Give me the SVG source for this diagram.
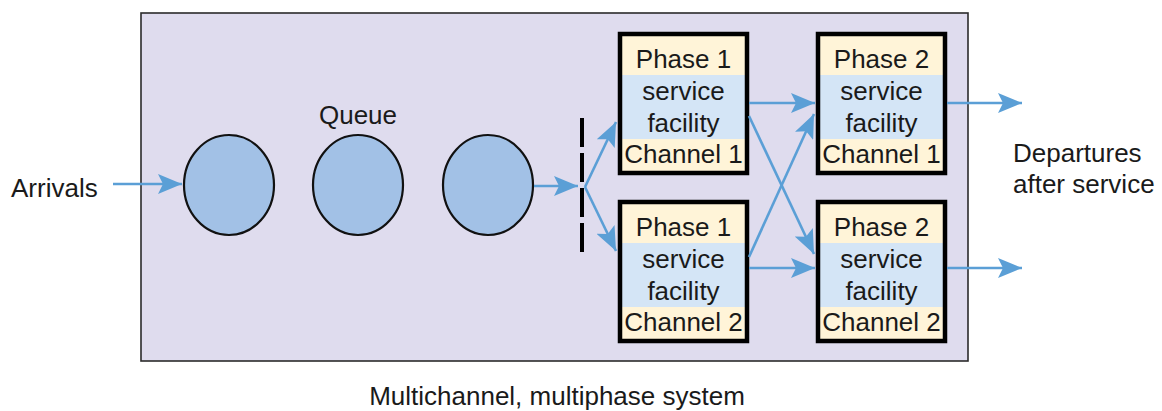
<svg xmlns="http://www.w3.org/2000/svg" width="1162" height="411" viewBox="0 0 1162 411">
<style>
text{font-family:"Liberation Sans",Arial,sans-serif;font-size:26px;fill:#1a1a1a}
.c{text-anchor:middle}
.q{fill:#a2c1e6;stroke:#111;stroke-width:2.2}
.cr{fill:#fff4d8}
.bl{fill:#d4e5f6}
.bx{fill:none;stroke:#000;stroke-width:4.5}
.a{stroke:#5b9fd6;stroke-width:2.6;fill:none;marker-end:url(#ah)}
</style>
<defs>
<marker id="ah" markerUnits="userSpaceOnUse" markerWidth="26" markerHeight="20" refX="24" refY="10" orient="auto">
<path d="M0,0 L24,10 L0,20 L5,10 Z" fill="#5b9fd6"/>
</marker>
</defs>
<rect id="system" x="141" y="13" width="827" height="348" fill="#dfdcee" stroke="#2b2b2b" stroke-width="1.6"/>
<g id="arrivals"><text x="11" y="197">Arrivals</text></g>
<g id="queue-label"><text class="c" x="358" y="124">Queue</text></g>
<g id="q1"><ellipse class="q" cx="229" cy="185" rx="45" ry="50"/></g>
<g id="q2"><ellipse class="q" cx="358" cy="185" rx="45" ry="50"/></g>
<g id="q3"><ellipse class="q" cx="488" cy="185" rx="45" ry="50"/></g>
<g id="gate"><line x1="582" y1="118" x2="582" y2="252" stroke="#000" stroke-width="4" stroke-dasharray="29 6"/></g>
<g id="p1c1">
<rect class="cr" x="620" y="34" width="127" height="139"/>
<rect class="bl" x="620" y="75" width="127" height="64"/>
<rect class="bx" x="620" y="34" width="127" height="139"/>
<text class="c" x="683.5" y="68">Phase 1</text>
<text class="c" x="683.5" y="100">service</text>
<text class="c" x="683.5" y="132">facility</text>
<text class="c" x="683.5" y="163">Channel 1</text>
</g>
<g id="p1c2">
<rect class="cr" x="620" y="202" width="127" height="139"/>
<rect class="bl" x="620" y="243" width="127" height="64"/>
<rect class="bx" x="620" y="202" width="127" height="139"/>
<text class="c" x="683.5" y="236">Phase 1</text>
<text class="c" x="683.5" y="268">service</text>
<text class="c" x="683.5" y="300">facility</text>
<text class="c" x="683.5" y="331">Channel 2</text>
</g>
<g id="p2c1">
<rect class="cr" x="818" y="34" width="127" height="139"/>
<rect class="bl" x="818" y="75" width="127" height="64"/>
<rect class="bx" x="818" y="34" width="127" height="139"/>
<text class="c" x="881.5" y="68">Phase 2</text>
<text class="c" x="881.5" y="100">service</text>
<text class="c" x="881.5" y="132">facility</text>
<text class="c" x="881.5" y="163">Channel 1</text>
</g>
<g id="p2c2">
<rect class="cr" x="818" y="202" width="127" height="139"/>
<rect class="bl" x="818" y="243" width="127" height="64"/>
<rect class="bx" x="818" y="202" width="127" height="139"/>
<text class="c" x="881.5" y="236">Phase 2</text>
<text class="c" x="881.5" y="268">service</text>
<text class="c" x="881.5" y="300">facility</text>
<text class="c" x="881.5" y="331">Channel 2</text>
</g>
<g id="departures">
<text x="1013" y="162">Departures</text>
<text x="1013" y="193">after service</text>
</g>
<g id="caption"><text class="c" x="557" y="405">Multichannel, multiphase system</text></g>
<g id="connectors">
<line class="a" x1="113" y1="184" x2="182" y2="184"/>
<line class="a" x1="534" y1="186" x2="578" y2="186"/>
<line class="a" x1="585" y1="187" x2="616" y2="122"/>
<line class="a" x1="585" y1="187" x2="616" y2="251"/>
<line class="a" x1="749" y1="103" x2="815" y2="103"/>
<line class="a" x1="749" y1="268" x2="815" y2="268"/>
<line class="a" x1="749" y1="116" x2="814" y2="254"/>
<line class="a" x1="749" y1="257" x2="814" y2="114"/>
<line class="a" x1="947" y1="103" x2="1022" y2="103"/>
<line class="a" x1="947" y1="268" x2="1022" y2="268"/>
</g>
</svg>
